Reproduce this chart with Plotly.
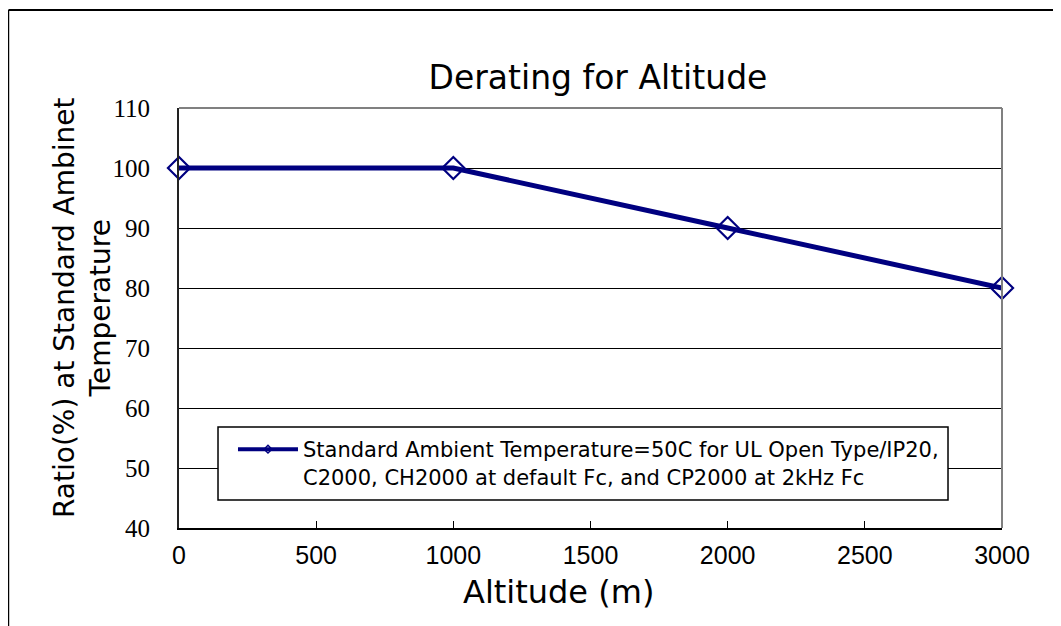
import plotly.graph_objects as go

altitude = [0, 1000, 2000, 3000]
ratio = [100, 100, 90, 80]
x_ticks = [0, 500, 1000, 1500, 2000, 2500, 3000]
y_ticks = [40, 50, 60, 70, 80, 90, 100, 110]
series_name = "Standard Ambient Temperature=50C for UL Open Type/IP20,<br>C2000, CH2000 at default Fc, and CP2000 at 2kHz Fc"
title_text = "Derating for Altitude"
x_title = "Altitude (m)"
y_title = "Ratio(%) at Standard Ambinet<br>Temperature"

NAVY = "#000080"
SANS = "DejaVu Sans, Liberation Sans, Arial"

fig = go.Figure()
fig.add_trace(go.Scatter(
    x=altitude, y=ratio, mode="lines+markers", showlegend=False, cliponaxis=False,
    line=dict(color=NAVY, width=5),
    marker=dict(symbol="diamond-open", size=17, color=NAVY, line=dict(width=2.2, color=NAVY)),
))
# legend entry (small marker as in the original legend)
fig.add_trace(go.Scatter(
    x=[None], y=[None], mode="lines+markers", name=series_name,
    line=dict(color=NAVY, width=4),
    marker=dict(symbol="diamond-open", size=6, color=NAVY, line=dict(width=1.5, color=NAVY)),
))

fig.update_layout(
    width=1053, height=618,
    margin=dict(l=171, r=59, t=100, b=98),
    paper_bgcolor="white", plot_bgcolor="white",
    font=dict(family=SANS, color="black"),
    title=dict(text=title_text, x=0.5603, xanchor="center", y=0.8875, yanchor="middle",
               font=dict(size=33, family=SANS)),
    showlegend=True,
    legend=dict(x=0.0656, y=0.2357, xanchor="left", yanchor="top", bgcolor="rgba(0,0,0,0)",
                borderwidth=0, font=dict(size=21, family=SANS), valign="top",
                itemwidth=60, tracegroupgap=0),
    xaxis=dict(range=[0, 3000], tickvals=x_ticks,
               ticks="inside", ticklen=7, tickcolor="black", tickwidth=1.2, showgrid=False,
               showline=True, linecolor="black", linewidth=2, mirror=False, zeroline=False,
               ticklabelstandoff=4,
               tickfont=dict(size=25, family="Liberation Sans, Arial")),
    yaxis=dict(range=[40, 110], tickvals=y_ticks,
               showgrid=True, gridcolor="black", gridwidth=1.3,
               showline=True, linecolor="#222", linewidth=2, mirror=False, zeroline=False,
               ticks="", ticklabelstandoff=22,
               tickfont=dict(size=25, family="Liberation Serif, Times New Roman")),
    annotations=[
        dict(text=x_title, xref="paper", yref="paper", x=0.4617, y=-0.152,
             xanchor="center", yanchor="middle", showarrow=False,
             font=dict(size=32, family=SANS)),
        dict(text=y_title, xref="paper", yref="paper", x=-0.118, y=0.526,
             xanchor="center", yanchor="middle", showarrow=False, textangle=-90,
             align="center", font=dict(size=28, family=SANS)),
    ],
)

# legend box (white, hides gridlines, black border)
fig.add_shape(type="rect", xref="paper", yref="paper", x0=0.0474, x1=0.9344, y0=0.0667, y1=0.2405,
              line=dict(color="black", width=1.5), fillcolor="white", layer="above")
# gray top and right plot frame
fig.add_shape(type="line", xref="paper", yref="paper", x0=0, x1=1, y0=1, y1=1,
              line=dict(color="#808080", width=2))
fig.add_shape(type="line", xref="paper", yref="paper", x0=1, x1=1, y0=0, y1=1,
              line=dict(color="#808080", width=2))
# outer frame lines (top and left)
fig.add_shape(type="line", xref="paper", yref="paper", x0=-0.2072, x1=1.2, y0=1.2333, y1=1.2333,
              line=dict(color="black", width=2))
fig.add_shape(type="line", xref="paper", yref="paper", x0=-0.2072, x1=-0.2072, y0=1.2333, y1=-0.3,
              line=dict(color="black", width=1.5))

fig.write_html("out.html")
